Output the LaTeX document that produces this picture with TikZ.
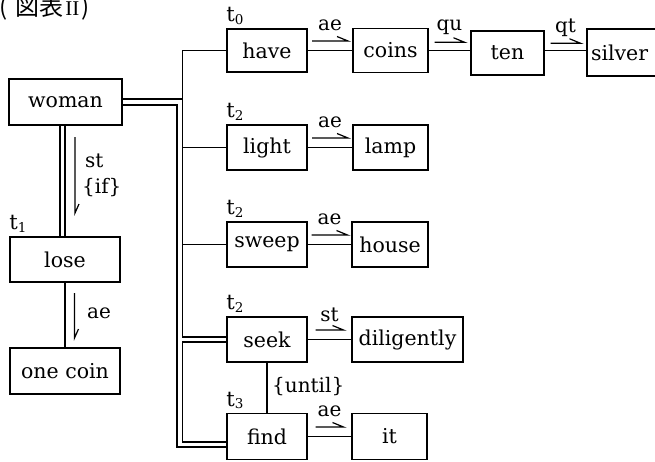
\documentclass[tikz,border=0pt]{standalone}
\usepackage{fontspec}
\setmainfont{DejaVu Serif}
\newfontfamily\cjk{Noto Sans CJK JP}
\newfontfamily\romfont{Liberation Serif}
\usetikzlibrary{calc}

\newcommand\boxfont{\fontsize{20.5}{24}\selectfont}
\newcommand\labfont{\fontsize{20}{23}\selectfont}
\newcommand\tfont{\fontsize{21}{24}\selectfont}
\newcommand\subfont{\fontsize{13.5}{15}\selectfont}
\newcommand\tlab[1]{t\raisebox{-2.5pt}{\subfont #1}}

% horizontal harpoon centred on #1, half length #2
\newcommand\harpR[2]{%
  \draw[harpline] ($(#1)+(-#2,0)$) -- ($(#1)+(#2,0)$) -- ($(#1)+({#2-11},-4.5)$);}
% relation mark above the link from #1 to #2
\newcommand\elab[4]{%
  \path ($(#1.east)!0.5!(#2.west)$) coordinate (m);
  \path ($(m)+(0,-9.5)$) coordinate (mh);
  \harpR{mh}{#4}
  \node[lab] at ($(m)+(0,-25)$) {#3};}

\begin{document}
\begin{tikzpicture}[x=1pt, y=-1pt,
  box/.style={draw, line width=1.5pt, inner sep=0pt, font=\boxfont},
  link/.style={line width=1.3pt},
  harpline/.style={line width=1.2pt},
  lab/.style={inner sep=0pt, font=\labfont},
  tl/.style={anchor=base west, inner sep=0pt, font=\tfont}]
\useasboundingbox (0,0) rectangle (655,461);

\node[anchor=base west, inner sep=0pt, font=\cjk\fontsize{24}{26}\selectfont] (title) at (-1,15)
  {(\hspace{8pt}図表\hspace{2pt}{\romfont\fontsize{21}{24}\selectfont II}\hspace{2pt})};

% left column
\node[box, minimum width=113pt, minimum height=46pt] (woman) at (65.5,102) {woman};
\node[box, minimum width=110pt, minimum height=45pt] (lose) at (65,259.5) {lose};
\node[box, minimum width=110pt, minimum height=46pt] (onecoin) at (65,371) {one coin};

% predicates
\node[box, minimum width=80pt, minimum height=43pt] (have) at (267,50.5) {have};
\node[box, minimum width=80pt, minimum height=45pt] (light) at (267,147.5) {light};
\node[box, minimum width=80pt, minimum height=45pt] (sweep) at (267,244.5) {sweep};
\node[box, minimum width=80pt, minimum height=45pt] (seek) at (267,339.5) {seek};
\node[box, minimum width=80pt, minimum height=46pt] (find) at (267,436.5) {find};

% objects
\node[box, minimum width=75pt, minimum height=44pt] (coins) at (390.5,50.5) {coins};
\node[box, minimum width=73pt, minimum height=44pt] (ten) at (507.5,53) {ten};
\node[box, minimum width=78pt, minimum height=47pt, text width=70pt, align=left] (silver) at (626,52.5) {silver};
\node[box, minimum width=75pt, minimum height=45pt] (lamp) at (390.5,147.5) {lamp};
\node[box, minimum width=76pt, minimum height=45pt] (house) at (390,244.5) {house};
\node[box, minimum width=111pt, minimum height=45pt] (dil) at (407.5,339.5) {diligently};
\node[box, minimum width=75pt, minimum height=46pt] (it) at (389.5,436.5) {it};

% time marks
\node[tl] (t0) at ($(have.north west)+(0,-6.5)$) {\tlab{0}};
\node[tl] (t2a) at ($(light.north west)+(0,-6.5)$) {\tlab{2}};
\node[tl] (t2b) at ($(sweep.north west)+(0,-6.5)$) {\tlab{2}};
\node[tl] (t2c) at ($(seek.north west)+(0,-6.5)$) {\tlab{2}};
\node[tl] (t3) at ($(find.north west)+(0,-6.5)$) {\tlab{3}};
\node[tl] (t1) at ($(lose.north west)+(0,-6.5)$) {\tlab{1}};

% woman -- lose (double) and lose -- one coin
\path ($(woman.south)+(-5.5,0)$) coordinate (wl1) ($(woman.south)+(-0.5,0)$) coordinate (wl2);
\draw[link] (wl1) -- (wl1 |- lose.north);
\draw[link] (wl2) -- (wl2 |- lose.north);
\draw[link] (lose.south) -- (onecoin.north);
\draw[harpline] (75,137) -- (75,213) -- (79,204);
\node[lab, anchor=west] (st1) at (85,161) {st};
\node[lab, anchor=west] (if1) at (82,188) {\{if\}};
\draw[harpline] (74.5,293) -- (74.5,338) -- (78.5,329);
\node[lab, anchor=west] (ae0) at (87,313) {ae};

% trunk from woman to the predicates
\coordinate (trunkx) at (182.5,0);
\coordinate (outx) at (177,0);
\path ($(woman.east)+(0,-3)$) coordinate (wA) ($(woman.east)+(0,3)$) coordinate (wB);
\path ($(seek.west)+(0,-2.5)$) coordinate (sA) ($(seek.west)+(0,2.5)$) coordinate (sB);
\path ($(find.west)+(0,5.5)$) coordinate (fA) ($(find.west)+(0,10.5)$) coordinate (fB);

\draw[link] (have.west) -- (have.west -| trunkx) -- (sA -| trunkx) -- (sA);
\draw[link] (light.west -| trunkx) -- (light.west);
\draw[link] (sweep.west -| trunkx) -- (sweep.west);
\draw[link] (wA) -- (wA -| trunkx);
\draw[link] (sB) -- (sB -| trunkx) -- (fA -| trunkx) -- (fA);
\draw[link] (wB) -- (wB -| outx) -- (fB -| outx) -- (fB);

% seek -- find
\draw[link] (seek.south) -- (find.north);
\node[lab, anchor=west] (until) at (272,387) {\{until\}};

% predicate -- object links
\draw[link] (have.east) -- (have.east -| coins.west);
\draw[link] (coins.east) -- (coins.east -| ten.west);
\draw[link] (coins.east -| ten.east) -- (coins.east -| silver.west);
\draw[link] (light.east) -- (lamp.west);
\draw[link] (sweep.east) -- (house.west);
\draw[link] (seek.east) -- (dil.west);
\draw[link] (find.east) -- (it.west);

\elab{have}{coins}{ae}{18}
\elab{coins}{ten}{qu}{15}
\elab{ten}{silver}{qt}{15}
\elab{light}{lamp}{ae}{18}
\elab{sweep}{house}{ae}{18}
\elab{seek}{dil}{st}{14}
\elab{find}{it}{ae}{14}
\end{tikzpicture}
\end{document}
